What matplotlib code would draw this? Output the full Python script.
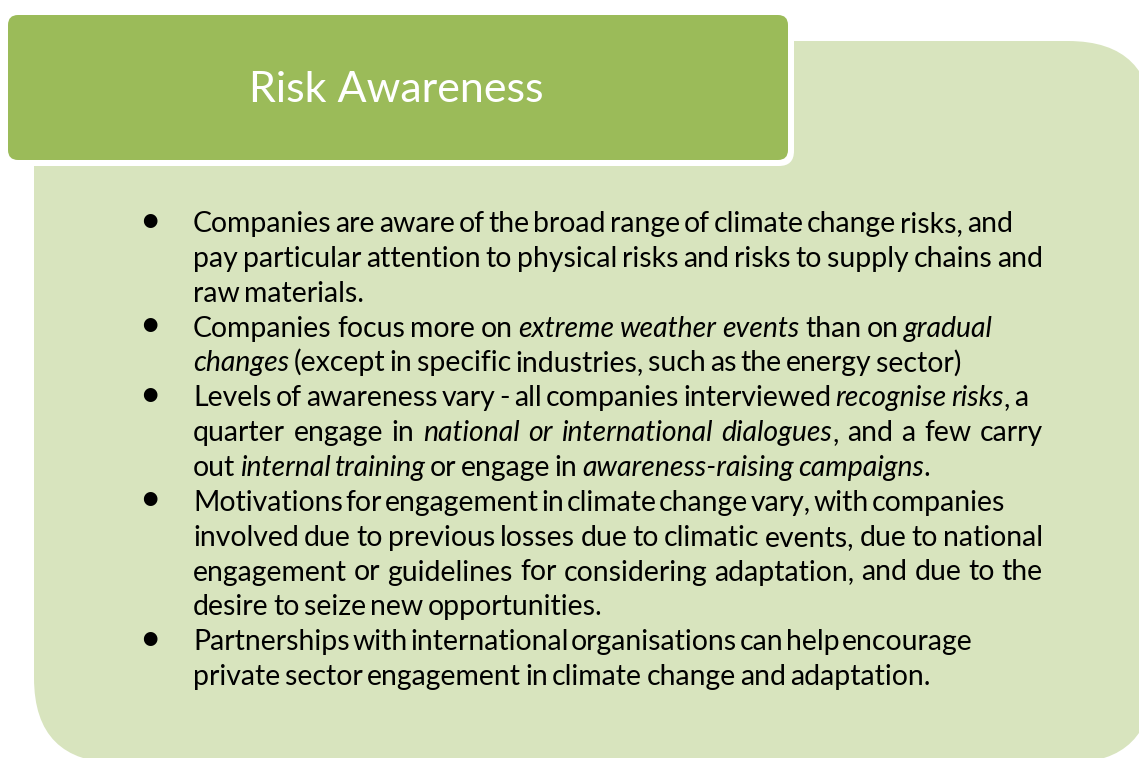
import matplotlib
matplotlib.use('Agg')
import matplotlib.pyplot as plt
from matplotlib.patches import FancyBboxPatch

# Text content (italics marked with *...*)
TITLE = "Risk Awareness"

BULLETS = [
    ["Companies are aware of the broad range of climate change risks, and",
     "pay particular attention to physical risks and risks to supply chains and",
     "raw materials."],
    ["Companies focus more on *extreme weather events* than on *gradual*",
     "*changes* (except in specific industries, such as the energy sector)"],
    ["Levels of awareness vary - all companies interviewed *recognise risks*, a",
     "quarter engage in *national or international dialogues*, and a few carry",
     "out *internal training* or engage in *awareness-raising campaigns*."],
    ["Motivations for engagement in climate change vary, with companies",
     "involved due to previous losses due to climatic events, due to national",
     "engagement or guidelines for considering adaptation, and due to the",
     "desire to seize new opportunities."],
    ["Partnerships with international organisations can help encourage",
     "private sector engagement in climate change and adaptation."],
]

# Layout (pixels)
W, H = 1139, 758
FONT = 'Lato'
DARK = '#9BBB59'
LIGHT = '#D8E4BE'
TEXT_X = 193
BULLET_X = 150
FIRST_BASELINE = 232
LINE_STEP = 34.85
SPACE_FACTOR = 0.6  # the original face sets tight word spaces
# right end of each line as typeset in the original (None = natural width)
LINE_ENDS = [1013, 1043, None, 993, None, 1028, 1043, None,
             1003, 1043, 1043, None, 965, None]
NATURAL_ENDS = [360, 955, 953, 597, 920]


def parse(line):
    """Split a marked-up line into words, each a list of (text, italic)."""
    words = [[]]
    for i, part in enumerate(line.split('*')):
        it = i % 2 == 1
        for j, ch in enumerate(part.split(' ')):
            if j > 0:
                words.append([])
            if ch:
                words[-1].append((ch, it))
    return [w for w in words if w]


fig = plt.figure(figsize=(W / 100, H / 100), dpi=100)
ax = fig.add_axes([0, 0, 1, 1])
ax.set_xlim(0, W)
ax.set_ylim(H, 0)
ax.axis('off')
renderer = fig.canvas.get_renderer()


def text_width(s, italic, size):
    t = ax.text(0, 0, s, fontsize=size, family=FONT,
                style='italic' if italic else 'normal')
    w = t.get_window_extent(renderer).width
    t.remove()
    return w


def word_width(word, size):
    return sum(text_width(p, it, size) for p, it in word)


def space_width(size):
    return (text_width('a a', False, size) - text_width('aa', False, size)) * SPACE_FACTOR


# background shapes
ax.add_patch(FancyBboxPatch((34, 41), 1119, 722,
                            boxstyle='round,pad=0,rounding_size=85',
                            fc=LIGHT, ec='none'))
ax.add_patch(FancyBboxPatch((2, 9), 792, 157,
                            boxstyle='round,pad=0,rounding_size=15',
                            fc='white', ec='none'))
ax.add_patch(FancyBboxPatch((8, 15), 780, 145,
                            boxstyle='round,pad=0,rounding_size=10',
                            fc=DARK, ec='none'))

# title, sized to the original width
tsize = 30 * 295 / text_width(TITLE, False, 30)
ax.text(396, 102, TITLE, fontsize=tsize, family=FONT, color='white',
        ha='center', va='baseline')

# body lines
lines = []
for b in BULLETS:
    for k, ln in enumerate(b):
        lines.append((k == 0, parse(ln)))

# fit font size so lines set at natural width match the original
ref = 20
space_ref = space_width(ref)
nat = []
for (first, words), end in zip(lines, LINE_ENDS):
    if end is None:
        nat.append(sum(word_width(w, ref) for w in words) + space_ref * (len(words) - 1))
size = ref * sum(e - TEXT_X for e in NATURAL_ENDS) / sum(nat)
space = space_width(size)

for i, ((first, words), end) in enumerate(zip(lines, LINE_ENDS)):
    y = FIRST_BASELINE + i * LINE_STEP
    widths = [word_width(w, size) for w in words]
    gap = space
    if end is not None and len(words) > 1:
        gap = max((end - TEXT_X - sum(widths)) / (len(words) - 1), space * 0.6)
    x = TEXT_X
    for w, ww in zip(words, widths):
        for p, it in w:
            ax.text(x, y, p, fontsize=size, family=FONT, color='black',
                    style='italic' if it else 'normal', ha='left', va='baseline')
            x += text_width(p, it, size)
        x += gap
    if first:
        ax.text(BULLET_X, y - 11, '\u2022', fontsize=size * 1.3, family=FONT,
                color='black', ha='center', va='center')

fig.savefig('out.png', dpi=100)
